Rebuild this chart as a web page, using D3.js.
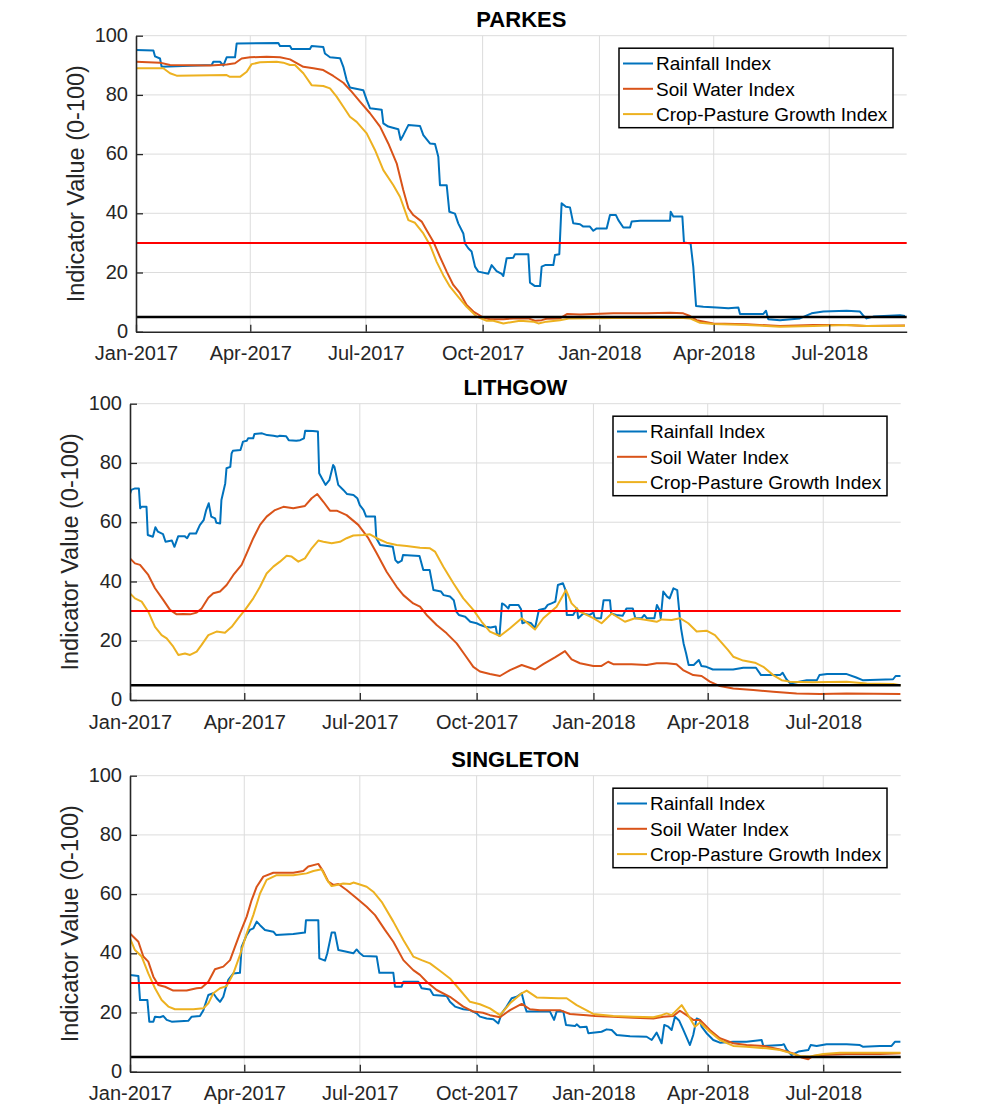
<!DOCTYPE html>
<html><head><meta charset="utf-8">
<script src="https://cdn.jsdelivr.net/npm/d3@7"></script>
<style>
body{margin:0;background:#fff;}
text{font-family:"Liberation Sans",Arial,Helvetica,sans-serif;}
</style>
</head><body>
<svg id="chart" width="1000" height="1112"></svg>
<script>
// ---------------- DATA ----------------
const startDate = "2017-01-01";
const endDate = "2018-08-31";
const stations = ["PARKES", "LITHGOW", "SINGLETON"];
const seriesNames = ["Rainfall Index", "Soil Water Index", "Crop-Pasture Growth Index"];
const yTicks = [0, 20, 40, 60, 80, 100];
const xTickMonths = ["2017-01-01","2017-04-01","2017-07-01","2017-10-01","2018-01-01","2018-04-01","2018-07-01"];
const upperThreshold = 30;
const lowerThreshold = 5;
const yAxisTitle = "Indicator Value (0-100)";

// [days since 1 Jan 2017, index value]
const parkesRain = [[0,95.2],[13.7,95],[15,93],[18.9,92.3],[20.2,89.5],[59.6,90.1],[60.9,91.2],[66.2,91.2],[68.8,89.9],[71.4,92.7],[78,92.7],[79.3,97.4],[112.1,97.5],[113.4,96.5],[121.3,96.5],[122.6,95.5],[137,95.5],[138.3,96.5],[147.5,96.2],[148.8,94],[152.8,92.7],[160.7,92.4],[163.3,89.5],[165.9,85],[168.5,82.5],[179,81.6],[181.7,78.3],[184.3,75.5],[193.5,75],[194.8,70.4],[198.7,69.3],[206.6,68.4],[208.4,64.8],[210.5,66.4],[214.5,69.8],[223.7,69.5],[226.3,66.4],[231.5,63.6],[235.5,63.4],[238.1,59.1],[239.4,49.5],[244.7,49.5],[246.8,40.5],[251.2,39.9],[253.8,36.6],[257.8,33.2],[259.1,29.8],[261.7,28.2],[264.3,27.1],[267,22],[269.6,20.3],[277.5,19.6],[280.1,22.5],[284,20.5],[288,19.5],[289.3,18.8],[291.9,24.8],[297.2,25],[298.5,26.2],[309,26.2],[310.3,16.6],[314.2,15.4],[318.2,15.4],[319.5,22],[322.2,22.5],[328.7,22.5],[330,25.9],[333.4,26.2],[335.2,43.4],[338.6,42.2],[341.8,42],[344.4,36.6],[349.7,36.3],[352.3,35.5],[357.5,35.5],[360.2,34.1],[362.8,34.9],[370.7,34.9],[373.3,39.4],[378,39.4],[379.9,37.7],[383.8,35.2],[389.1,35.2],[390.4,37.2],[397,37.5],[420.6,37.5],[421.1,40.5],[423.2,38.9],[430.3,38.9],[431.6,30.1],[436.8,29.8],[438.9,22],[441.1,8.7],[446.8,8.4],[457.4,8.2],[466.5,7.9],[474.4,8.2],[475.7,6],[494.1,6],[496.2,7.1],[498,4.2],[507.2,3.9],[522.9,4.5],[532.1,6.2],[541.3,6.8],[559.7,7.1],[570.2,6.8],[572.8,5.4],[575.4,4.5],[580.7,5.1],[601.7,5.6],[605.6,5.3]];
const parkesSoil = [[0,91.2],[18.9,90.9],[26.8,90.1],[58.3,89.9],[71.4,90.3],[78,90.7],[83.2,92.3],[89.8,92.7],[102.9,92.9],[113.4,92.7],[121.3,92],[131.8,89.5],[139.7,89],[147.5,88.4],[155.4,86.4],[163.3,84.1],[169.8,81.1],[176.4,77.7],[184.3,73.8],[192.2,69.3],[198.7,63.6],[205.3,56.9],[210.5,47.9],[214.5,41.7],[218.4,39.4],[225,37.2],[228.9,34.3],[234.2,30.4],[239.4,25.3],[244.7,20.3],[249.9,15.8],[255.2,13],[260.4,9],[265.7,6.8],[273.5,4.8],[278.8,4.2],[289.3,4.2],[297.2,4.5],[309,4.5],[314.2,3.7],[319.5,3.9],[323.4,4.4],[333.9,4.5],[339.7,6],[349.7,5.8],[375.9,6.2],[402.2,6.2],[420.6,6.4],[431,6.2],[436.3,5.3],[441.5,3.9],[454.7,2.8],[481,2.5],[507.2,1.9],[533.5,2.3],[559.7,2.3],[575.4,1.9],[605.6,2.1]];
const parkesCrop = [[0,89],[21.5,89],[26.8,87.3],[32,86.5],[71.4,86.7],[74,86.1],[81.9,86.1],[87.2,87.8],[91.1,90.4],[97.7,91],[110.8,91.2],[116,90.9],[121.3,90.1],[125.2,90.1],[131.8,87.3],[138.3,83.3],[147.5,83],[152.8,82.2],[158,79.4],[163.3,76],[168.5,72.6],[173.8,70.9],[181.7,67],[188.2,61.4],[194.8,54.6],[202.7,49.5],[207.9,45.6],[214.5,37.7],[219.7,36.8],[226.3,33.2],[231.5,29.3],[236.8,23.6],[242,19.1],[247.3,15.2],[253.8,11.8],[260.4,8.4],[268.3,5.1],[276.2,3.7],[281.4,3.7],[289.3,2.8],[302.4,3.7],[312.9,3.4],[316.9,2.8],[323.4,3.4],[333.9,3.9],[341.8,4.5],[375.9,4.6],[428.4,4.7],[436.3,4.5],[444.2,3],[454.7,2.6],[481,2.3],[507.2,1.7],[533.5,1.9],[559.7,2.3],[575.4,1.9],[605.6,2]];

const lithgowRain = [[0,69.5],[1,70.9],[4,71.4],[7,71.4],[8,64.7],[9,65.2],[13,65.2],[14,55.7],[18,55.1],[20,58.3],[22,56.8],[26,56],[28,53.4],[33,53.8],[35,51.7],[38,55.3],[43,55.3],[45,54.6],[47,56.2],[52,56.2],[55,59],[58,60.7],[60,64.1],[62,66.4],[64,61.9],[67,61.3],[68,59.8],[71,59.6],[72,67.5],[75,73.1],[76,78.2],[79,78.7],[80,83.2],[81,84.1],[87,84.4],[89,87.2],[92,87.5],[93,88.3],[97,88.3],[98,89.8],[104,90],[108,89.4],[113,89.2],[116,88.9],[118,89.2],[123,89],[125,87.7],[131,87.5],[134,87.7],[137,88.3],[138,90.9],[144,90.8],[148,90.6],[149,76.5],[152,74.2],[154,72.6],[157,74.2],[160,79.3],[161,78.7],[164,72.6],[168,70.9],[171,69.5],[176,69.2],[179,68.1],[181,65.8],[184,64.1],[186,61.9],[193,61.9],[194,54.6],[197,52.3],[207,51.7],[209,47.2],[211,46.3],[214,47],[215,48.9],[228,48.6],[231,43.9],[236,43.9],[239,37.1],[245,36.6],[247,35.4],[252,34.9],[255,33.7],[257,29.8],[259,28.7],[264,28.1],[268,26.4],[273,25.9],[276,25.3],[280,24.7],[284,24.5],[288,24.8],[289,22.5],[291,21.6],[293,32.6],[295,32.1],[298,30.9],[299,32.1],[306,32.1],[308,30.6],[309,25.9],[312,26.4],[316,25.9],[319,24.2],[322,30.4],[327,30.9],[329,32.1],[332,32.6],[335,33.2],[337,38.8],[341,39.4],[343,37.1],[344,28.7],[349,28.7],[352,30.9],[353,27.6],[357,29.2],[362,28.7],[365,29.5],[366,27.6],[371,27.6],[373,33.7],[378,33.7],[379,29.2],[383,28.7],[388,28.4],[391,30.9],[396,30.9],[398,27.6],[403,27.6],[405,28.7],[407,27.6],[413,27.6],[415,32.1],[417,30.4],[418,27.6],[420,36.6],[423,34.9],[425,34.3],[428,37.7],[431,37.1],[433,28.1],[434,24.2],[436,19.1],[438,15.7],[440,11.8],[444,11.8],[448,13.5],[450,11.5],[454,11.2],[459,10.3],[475,10.3],[483,10.9],[493,10.9],[497,8.4],[512,8.4],[514,9.2],[517,7],[520,5.6],[533,6.7],[541,6.7],[543,8.4],[549,8.8],[564,8.8],[572,7.6],[577,6.7],[601,7],[603,8.1],[607,8.1]];
const lithgowSoil = [[0,47.8],[3.9,46.1],[7.9,45.6],[14.4,42.2],[19.7,37.7],[26.3,33.7],[31.5,30.4],[36.8,28.9],[42,29],[47.3,28.9],[52.5,29.5],[56.4,30.9],[61.7,34.5],[65.6,36],[70.9,36.6],[76.1,38.8],[81.4,42.2],[87.9,45.6],[91.9,49.5],[97.1,54.6],[102.4,59.1],[107.6,61.9],[114.2,64.1],[120.8,65.2],[128.6,64.7],[137.8,65.5],[143.1,68.1],[147.5,69.5],[152.3,66.9],[157.5,63.9],[162.8,63.9],[170.6,62.4],[179.8,59.1],[187.7,54.6],[194.3,49.5],[202.1,43.3],[210,38.2],[215.3,35.4],[223.1,32.6],[228.4,31.5],[233.6,28.7],[241.5,25.3],[249.4,22.5],[257.3,19.1],[263.8,15.2],[270.4,11.2],[275.6,9.6],[283.5,8.8],[291.4,8.1],[299.3,10.1],[308.5,11.8],[319,10.3],[325.5,12.1],[334.7,14.4],[342.6,16.5],[347.8,13.7],[354.4,12.4],[364.9,11.5],[371.4,11.5],[376.6,12.9],[380.6,12.1],[395.1,12.1],[406.9,11.8],[414.8,12.4],[422.6,12.4],[430.4,12.1],[435.6,10.1],[443.6,8.4],[450.2,8.1],[456.7,6.2],[464.6,4.7],[475.1,3.9],[490.9,3.4],[506.6,2.8],[525,2.2],[543.4,2],[564.4,2.2],[606.9,2]];
const lithgowCrop = [[0,36],[3.9,34.3],[9.2,33.2],[14.4,29.8],[19.7,24.7],[24.9,21.9],[28.9,20.8],[34.1,18],[38.1,15.2],[43.3,15.7],[47.3,15.2],[52.5,16.3],[56.4,18.6],[61.7,21.9],[68.2,23.1],[74.8,22.7],[80.1,24.7],[85.3,27.6],[90.6,30.4],[97.1,34.3],[102.4,38.2],[107.6,42.7],[112.9,45],[118.1,46.7],[123.4,48.7],[127.3,48.4],[132.6,46.7],[137.8,47.8],[143.1,51.2],[148.3,53.8],[152.3,53.4],[158.8,52.9],[165.4,53.4],[170.6,54.6],[175.9,55.5],[183.8,55.7],[189,55.9],[194.3,54.6],[202.1,53.1],[210,52.3],[217.9,52],[228.4,51.4],[236.3,51.2],[240.2,50.1],[246.8,45],[254.7,39.4],[262.5,34.3],[270.4,30.4],[277,26.4],[283.5,23.1],[291.4,21.6],[299.3,24.2],[308.5,27.6],[319,23.8],[325.5,27.6],[336,31.5],[343.4,37.1],[347.8,32.6],[354.4,29.8],[364.9,27.6],[371.4,25.9],[379.4,29.2],[389.8,26.4],[397.7,27.6],[406.9,27],[414.8,26.4],[418.7,27.2],[426.6,27],[433.1,27.6],[439.7,25.9],[446.3,23.1],[454.1,23.4],[460.7,21.9],[470.9,16.9],[475.1,14.6],[483,13.3],[492.2,12.6],[498.8,11.2],[506.6,8.4],[513.2,6.7],[519.8,6.2],[537.4,6],[564.4,6.2],[580.2,5.6],[601.2,5.4],[606.9,5]];

const singletonRain = [[0,32.7],[6.6,32.3],[7.9,24.2],[13.7,24.2],[15.2,16.9],[18.4,16.9],[19.7,18.6],[23.6,18.4],[26.3,18.8],[28.9,17.5],[32.8,16.9],[45.9,17.2],[48.6,18.6],[55.1,18.8],[57.8,20.8],[61.7,25.9],[65.6,26.5],[68.3,24.8],[70.9,23.6],[73.5,25.3],[75.3,28.2],[77.4,31],[81.4,33.2],[86.6,33.4],[87.9,42.2],[91.9,46.2],[94.5,47.9],[97.1,48.4],[99.8,50.7],[102.4,49.5],[106.3,47.9],[112.9,47.3],[115,46.2],[128.6,46.5],[137.8,47],[138.6,51.2],[148.3,51.2],[149.1,38.3],[153.6,37.5],[155.4,40],[158.8,47],[161.4,47],[164.1,41.1],[170.6,40.5],[175.9,40],[178.5,41.3],[181.1,40],[183.8,39.1],[194.3,38.9],[196.4,33.4],[207.4,33.4],[208.7,28.7],[213.9,28.7],[215.3,30.4],[227.1,30.4],[229.7,28.2],[236.3,27.8],[238.9,25.9],[249.4,25.6],[252,23.6],[256,22],[262.5,21.1],[267.8,20.8],[273,19.7],[275.6,18.6],[280.9,18],[286.1,17.7],[290.1,16.3],[292.7,19.7],[296.6,22],[300.6,24.8],[304.5,25.3],[308.5,26.5],[311.1,22],[312.4,20.3],[330.8,20.3],[334,17.5],[336,20.3],[341.3,20.3],[343.4,15.8],[350.5,15.4],[351.8,16],[354.4,15],[359.6,15.2],[361,13],[371.4,13.5],[375.4,14.3],[379.4,14.1],[383.3,12.4],[393.8,12],[406.9,11.8],[410.9,10.7],[414.8,13.2],[418.7,9.6],[420.8,15.8],[424,15.2],[426.6,14.1],[429.2,18.6],[432.6,17.2],[435.8,14.1],[441,9],[443.6,12.4],[446.3,18],[448.9,17.5],[450.2,15.2],[454.1,13],[459.4,10.7],[464.6,9.8],[475.1,10.1],[485.6,10.1],[497.5,10.7],[498.8,8.7],[513.2,9],[515,9.3],[517.1,7.5],[521,5.6],[526.4,6.8],[534.2,7.3],[536.1,9],[540.8,8.7],[548.6,9.3],[564.4,9.3],[574.9,9],[577.5,8.4],[590.6,8.7],[599.8,8.7],[602.4,10.1],[606.9,10.1]];
const singletonSoil = [[0,46.7],[2.6,45.6],[6.6,43.9],[10.5,38.9],[14.4,37.2],[18.4,32.1],[22.3,29.3],[27.6,28.7],[34.1,27.4],[44.6,27.4],[52.5,28.2],[56.4,28.4],[61.7,30.4],[66.9,34.6],[73.5,35.5],[78.8,37.7],[86.6,46.7],[91.9,52.4],[95.8,58],[99.8,62.5],[105,65.9],[112.9,67.2],[128.6,67.2],[136.5,67.8],[140.4,69.3],[148.3,70.2],[152.3,67.6],[156.2,64.2],[160.1,63.1],[164.1,63.4],[170.6,61.4],[178.5,58.6],[186.4,55.7],[193,52.9],[200.8,47.9],[207.4,43.9],[215.3,37.7],[223.1,34.3],[228.4,32.7],[233.6,30.4],[241.5,27.6],[252,25.3],[262.5,22],[270.4,20.3],[278,19.9],[283.5,19.1],[291.4,18.4],[299.3,20.8],[308.5,22.9],[315,21.1],[322.9,20.8],[338.6,20.8],[346.5,19.5],[359.6,19.1],[366.2,18.8],[380.6,18.6],[396.4,18.2],[412.2,18],[420,18.6],[427.9,18.8],[433.1,20.6],[438.4,19.1],[443.6,17.5],[448.9,17.5],[456.7,14.1],[464.6,11.3],[475.1,9.6],[485.6,9],[498.8,8.7],[511.9,7.5],[522.4,6.2],[529,4.8],[534.2,4.2],[538.1,5.3],[543.4,5.6],[564.4,6],[590.6,6],[606.9,6.2]];
const singletonCrop = [[0,45],[3.9,41.1],[9.2,38.9],[14.4,33.2],[19.7,28.2],[24.9,24.2],[30.2,22],[35.4,21.1],[49.9,21.1],[57.8,21.4],[61.7,23.1],[65.6,26.5],[70.9,28.2],[76.1,28.9],[81.4,33.2],[86.6,39.4],[91.9,46.7],[97.1,52.9],[102.4,60.2],[107.6,64.8],[115.5,66.4],[128.6,66.4],[139.1,67],[144.4,67.8],[150.9,68.4],[154.9,65],[158.8,62.7],[162.8,63.1],[168,63.6],[173.3,63.4],[175.9,63.9],[179.8,63.4],[186.4,62.5],[191.6,60.8],[198.2,57.4],[207.4,50.7],[215.3,44.5],[223.1,38.9],[229.7,37.7],[236.3,36.6],[244.1,34.1],[252,31.5],[259.9,27.6],[267.8,23.6],[275.6,22.8],[283.5,21.4],[291.4,19.1],[299.3,23.1],[308.5,26.5],[312.4,27.4],[320.3,25.1],[337.3,24.8],[343.9,24.8],[351.8,22.5],[364.9,19.5],[380.6,18.8],[396.4,18.6],[412.2,18.4],[418.7,19.1],[422.6,19.7],[426.6,19.1],[434.5,22.5],[438.4,19.9],[445,15.2],[448.9,16.6],[456.7,13.5],[464.6,10.7],[475.1,8.7],[485.6,8.4],[501.4,7.9],[511.9,7.3],[521.1,6.2],[527.6,5.3],[535.5,5.1],[546,6],[559.1,6.4],[577.5,6.4],[606.9,6.4]];

// ---------------- LAYOUT ----------------
const seriesColors = ["#0072BD", "#D95319", "#EDB120"];
const panelData = [
  [parkesRain, parkesSoil, parkesCrop],
  [lithgowRain, lithgowSoil, lithgowCrop],
  [singletonRain, singletonSoil, singletonCrop]
];
const panelBoxes = [
  {left: 136, right: 906.7, top: 35.7, bottom: 331.7},
  {left: 130, right: 900.7, top: 403.7, bottom: 700},
  {left: 130, right: 900.7, top: 775.7, bottom: 1071.7}
];

const parse = d3.timeParse("%Y-%m-%d");
const t0 = parse(startDate);
const t1 = parse(endDate);
const dayToDate = d => new Date(t0.getTime() + d * 86400000);
const tickDates = xTickMonths.map(parse);
const fmt = d3.timeFormat("%b-%Y");

const svg = d3.select("#chart");
const axisColor = "#262626";

stations.forEach((name, i) => {
  const b = panelBoxes[i];
  const x = d3.scaleTime().domain([t0, t1]).range([b.left, b.right]);
  const y = d3.scaleLinear().domain([0, 100]).range([b.bottom, b.top]);
  const g = svg.append("g");

  // grid
  g.append("g").selectAll("line").data(yTicks.filter(v => v > 0)).join("line")
    .attr("x1", b.left).attr("x2", b.right)
    .attr("y1", d => y(d)).attr("y2", d => y(d))
    .attr("stroke", "#dcdcdc").attr("stroke-width", 1);
  g.append("g").selectAll("line").data(tickDates.slice(1)).join("line")
    .attr("x1", d => x(d)).attr("x2", d => x(d))
    .attr("y1", b.top).attr("y2", b.bottom)
    .attr("stroke", "#dcdcdc").attr("stroke-width", 1);

  // clip
  const clipId = "clip" + i;
  svg.append("clipPath").attr("id", clipId).append("rect")
    .attr("x", b.left).attr("y", b.top - 2).attr("width", b.right - b.left).attr("height", b.bottom - b.top + 2);

  // series
  const line = d3.line().x(d => x(dayToDate(d[0]))).y(d => y(d[1]));
  const lg = g.append("g").attr("clip-path", `url(#${clipId})`);
  panelData[i].forEach((s, k) => {
    lg.append("path").datum(s).attr("d", line)
      .attr("fill", "none").attr("stroke", seriesColors[k])
      .attr("stroke-width", 2).attr("stroke-linejoin", "round");
  });

  // thresholds
  g.append("line").attr("x1", b.left).attr("x2", b.right)
    .attr("y1", y(upperThreshold)).attr("y2", y(upperThreshold))
    .attr("stroke", "#ff0000").attr("stroke-width", 2);
  g.append("line").attr("x1", b.left).attr("x2", b.right)
    .attr("y1", y(lowerThreshold)).attr("y2", y(lowerThreshold))
    .attr("stroke", "#000").attr("stroke-width", 2.5);

  // axes
  const xa = g.append("g").attr("transform", `translate(0,${b.bottom})`)
    .call(d3.axisBottom(x).tickValues(tickDates).tickFormat(fmt).tickSize(-7).tickSizeOuter(0).tickPadding(14.6));
  const ya = g.append("g").attr("transform", `translate(${b.left},0)`)
    .call(d3.axisLeft(y).tickValues(yTicks).tickSize(-7).tickSizeOuter(0).tickPadding(8));
  [xa, ya].forEach(a => {
    a.select(".domain").attr("stroke", axisColor).attr("stroke-width", 1.6);
    a.selectAll(".tick line").attr("stroke", axisColor).attr("stroke-width", 1.3);
    a.selectAll("text").attr("fill", axisColor).style("font-size", "20px")
      .style("font-family", "'Liberation Sans', Arial, sans-serif");
  });
  ya.selectAll("text").attr("dy", "0.28em");

  // y axis title
  g.append("text")
    .attr("transform", `translate(${b.left - 52},${(b.top + b.bottom) / 2}) rotate(-90)`)
    .attr("text-anchor", "middle").attr("fill", axisColor)
    .style("font-size", "23.5px").text(yAxisTitle);

  // panel title
  g.append("text").attr("x", (b.left + b.right) / 2).attr("y", b.top - 9)
    .attr("text-anchor", "middle").attr("fill", "#000")
    .style("font-size", "22px").style("font-weight", "bold").text(name);

  // legend
  const lx = b.right - 287.7, ly = b.top + 12.5;
  const leg = g.append("g").attr("transform", `translate(${lx},${ly})`);
  leg.append("rect").attr("width", 274).attr("height", 79.5)
    .attr("fill", "#fff").attr("stroke", "#000").attr("stroke-width", 1.5);
  seriesNames.forEach((s, k) => {
    const cy = 15.3 + k * 25.3;
    leg.append("line").attr("x1", 4).attr("x2", 34).attr("y1", cy).attr("y2", cy)
      .attr("stroke", seriesColors[k]).attr("stroke-width", 2);
    leg.append("text").attr("x", 37).attr("y", cy).attr("dy", "0.36em")
      .attr("fill", "#000").style("font-size", "19px").text(s);
  });
});
</script>
</body></html>
